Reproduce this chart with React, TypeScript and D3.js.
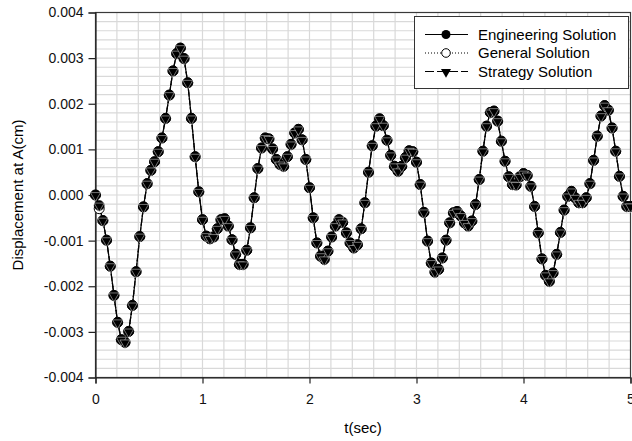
import { useEffect, useRef } from "react";
import * as d3 from "d3";

// displacement values in units of 0.001 cm, sampled every 1/29 s from 0 to 5 s
const engineering = [
  0, -0.23, -0.56, -0.99, -1.56, -2.2, -2.79, -3.17, -3.23, -2.99,
  -2.42, -1.68, -0.91, -0.26, 0.25, 0.54, 0.73, 0.95, 1.25, 1.68,
  2.19, 2.72, 3.1, 3.22, 2.99, 2.46, 1.68, 0.84, 0.07, -0.54,
  -0.9, -0.96, -0.92, -0.74, -0.54, -0.52, -0.68, -0.98, -1.3, -1.52,
  -1.52, -1.21, -0.72, -0.06, 0.58, 1.03, 1.25, 1.23, 1.01, 0.78,
  0.67, 0.63, 0.84, 1.11, 1.36, 1.44, 1.21, 0.78, 0.16, -0.5,
  -1.05, -1.34, -1.41, -1.23, -0.92, -0.68, -0.54, -0.6, -0.83, -1.05,
  -1.16, -1.09, -0.74, -0.17, 0.5, 1.08, 1.51, 1.67, 1.52, 1.2,
  0.87, 0.63, 0.52, 0.63, 0.82, 0.97, 0.95, 0.72, 0.23, -0.38,
  -1.01, -1.49, -1.69, -1.63, -1.38, -0.99, -0.61, -0.39, -0.36, -0.46,
  -0.61, -0.68, -0.57, -0.21, 0.34, 0.96, 1.51, 1.81, 1.84, 1.62,
  1.18, 0.74, 0.4, 0.23, 0.22, 0.4, 0.47, 0.43, 0.19, -0.25,
  -0.83, -1.4, -1.76, -1.89, -1.71, -1.3, -0.82, -0.33, -0.03, 0.08,
  -0.06, -0.17, -0.17, -0.06, 0.25, 0.76, 1.29, 1.73, 1.96, 1.86,
  1.47, 0.96, 0.41, -0.03, -0.25, -0.25,
];
// the other two solutions lie on top of the engineering one
const general = engineering.slice();
general[1] = -0.3;
const strategy = engineering.slice();

const timeStep = 1 / 29;
const xTicks = [0, 1, 2, 3, 4, 5];
const yTicks = [-4, -3, -2, -1, 0, 1, 2, 3, 4];
const legendNames = ["Engineering Solution", "General Solution", "Strategy Solution"];

const App = () => {
  const ref = useRef(null);

  useEffect(() => {
    const svg = d3.select(ref.current);
    svg.selectAll("*").remove();

    const left = 95.5;
    const right = 630.5;
    const top = 12.5;
    const bottom = 377.5;
    const font = "'Liberation Sans', Arial, sans-serif";

    const x = d3.scaleLinear().domain([0, 5]).range([left, right]);
    const y = d3.scaleLinear().domain([-4, 4]).range([bottom, top]);

    // grid
    const grid = svg.append("g");
    grid
      .selectAll(".vg")
      .data(d3.range(1, 25).map((i) => i * 0.2))
      .enter()
      .append("line")
      .attr("x1", (d) => x(d))
      .attr("x2", (d) => x(d))
      .attr("y1", top)
      .attr("y2", bottom)
      .attr("stroke", "#d9d9d9")
      .attr("stroke-width", 1.2);
    grid
      .selectAll(".hg")
      .data(d3.range(1, 40).map((i) => -4 + i * 0.2))
      .enter()
      .append("line")
      .attr("x1", left)
      .attr("x2", right)
      .attr("y1", (d) => y(d))
      .attr("y2", (d) => y(d))
      .attr("stroke", "#d9d9d9")
      .attr("stroke-width", 1.2);

    // frame
    svg
      .append("rect")
      .attr("x", left)
      .attr("y", top)
      .attr("width", right - left)
      .attr("height", bottom - top)
      .attr("fill", "none")
      .attr("stroke", "#3a3a3a")
      .attr("stroke-width", 1.2);

    // axes
    const xAxis = svg
      .append("g")
      .attr("transform", `translate(0,${bottom})`)
      .call(d3.axisBottom(x).tickValues(xTicks).tickSize(6).tickPadding(11).tickFormat(d3.format("d")));
    const yAxis = svg
      .append("g")
      .attr("transform", `translate(${left},0)`)
      .call(
        d3.axisLeft(y).tickValues(yTicks).tickSize(7).tickPadding(5)
          .tickFormat((d) => (d / 1000).toFixed(3))
      );
    [xAxis, yAxis].forEach((a) => {
      a.select(".domain").attr("stroke", "#222").attr("stroke-width", 1.2);
      a.selectAll(".tick line").attr("stroke", "#222").attr("stroke-width", 1.2);
      a.selectAll("text").attr("fill", "#111").style("font-family", font).style("font-size", "14px");
    });

    svg
      .append("text")
      .attr("x", (left + right) / 2)
      .attr("y", 433)
      .attr("text-anchor", "middle")
      .style("font-family", font)
      .style("font-size", "15px")
      .text("t(sec)");
    svg
      .append("text")
      .attr("transform", `translate(23,${(top + bottom) / 2}) rotate(-90)`)
      .attr("text-anchor", "middle")
      .style("font-family", font)
      .style("font-size", "15px")
      .text("Displacement at A(cm)");

    const line = d3
      .line()
      .x((d, i) => x(i * timeStep))
      .y((d) => y(d));

    const tri = d3.symbol().type(d3.symbolTriangle).size(44);

    const drawLine = (data, dash) =>
      svg
        .append("path")
        .datum(data)
        .attr("d", line)
        .attr("fill", "none")
        .attr("stroke", "#000")
        .attr("stroke-width", 1.2)
        .attr("stroke-dasharray", dash);

    drawLine(general, "1,2");
    drawLine(engineering, null);
    drawLine(strategy, "6,3");

    // general: open circles
    svg
      .append("g")
      .selectAll("circle")
      .data(general)
      .enter()
      .append("circle")
      .attr("cx", (d, i) => x(i * timeStep))
      .attr("cy", (d) => y(d))
      .attr("r", 5)
      .attr("fill", "#fff")
      .attr("stroke", "#000")
      .attr("stroke-width", 1);

    // engineering: filled circles
    svg
      .append("g")
      .selectAll("circle")
      .data(engineering)
      .enter()
      .append("circle")
      .attr("cx", (d, i) => x(i * timeStep))
      .attr("cy", (d) => y(d))
      .attr("r", 5)
      .attr("fill", "#000")
      .attr("stroke", "#000")
      .attr("stroke-width", 0.6);

    // strategy: down triangles
    svg
      .append("g")
      .selectAll("path")
      .data(strategy)
      .enter()
      .append("path")
      .attr("d", tri)
      .attr("transform", (d, i) => `translate(${x(i * timeStep)},${y(d) + 0.5}) rotate(180)`)
      .attr("fill", "#000")
      .attr("stroke", "#fff")
      .attr("stroke-width", 0.45);

    // legend
    const legend = svg.append("g");
    legend
      .append("rect")
      .attr("x", 414.5)
      .attr("y", 16.5)
      .attr("width", 214)
      .attr("height", 72)
      .attr("fill", "#fff")
      .attr("stroke", "#333")
      .attr("stroke-width", 1);

    legendNames.forEach((name, index) => {
      const ly = 34.5 + index * 18.5;
      legend
        .append("line")
        .attr("x1", 425)
        .attr("x2", 468)
        .attr("y1", ly)
        .attr("y2", ly)
        .attr("stroke", "#000")
        .attr("stroke-width", 1)
        .attr("stroke-dasharray", index === 0 ? null : index === 1 ? "1,2" : "9,3");
      if (index === 0) {
        legend.append("circle").attr("cx", 446).attr("cy", ly).attr("r", 4.5).attr("fill", "#000");
      } else if (index === 1) {
        legend
          .append("circle")
          .attr("cx", 446)
          .attr("cy", ly)
          .attr("r", 4.3)
          .attr("fill", "#fff")
          .attr("stroke", "#000")
          .attr("stroke-width", 1);
      } else {
        legend
          .append("path")
          .attr("d", tri)
          .attr("transform", `translate(446,${ly + 0.5}) rotate(180)`)
          .attr("fill", "#000");
      }
      legend
        .append("text")
        .attr("x", 478)
        .attr("y", ly)
        .attr("dy", "0.35em")
        .style("font-family", font)
        .style("font-size", "15px")
        .text(name);
    });
  }, []);

  return (
    <svg
      ref={ref}
      width={632}
      height={441}
      style={{ position: "absolute", left: 0, top: 0, background: "#fff" }}
    ></svg>
  );
};

export default App;
